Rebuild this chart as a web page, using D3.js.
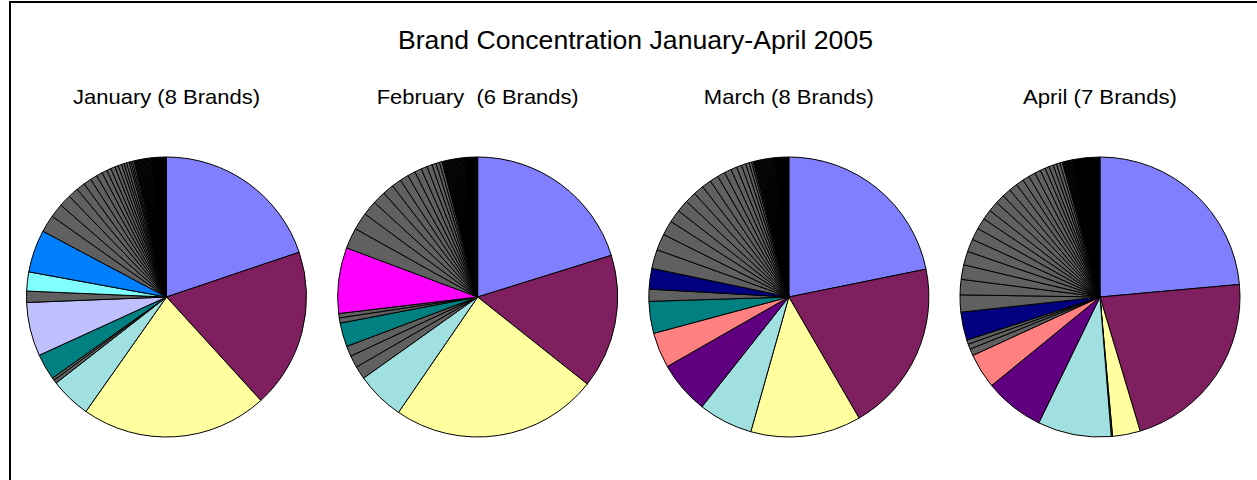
<!DOCTYPE html>
<html>
  <head>
    <title>Brand Concentration</title>
    <script src="https://d3js.org/d3.v7.min.js"></script>
    <style>
      body { margin: 0; background: #fff; }
      text { font-family: "Liberation Sans", Arial, sans-serif; fill: #000; }
    </style>
  </head>
  <body>
    <script>

      // chart title and month labels
      var title = "Brand Concentration January-April 2005"
      var months = ["January (8 Brands)", "February  (6 Brands)", "March (8 Brands)", "April (7 Brands)"]

      // slices clockwise from 12 o'clock, "o" = small brands, "t" = tiny brands, "r" = rest
      var janKeys = ["b1","b2","b3","b4","o","o","b7","b10","o","b11","b12",
        "o","o","o","o","o","o","o","o","o","o","o","o","o","o","o","o","o","o","o",
        "t","t","t","t","t","t","t","t","t","t","t","t","t","t","t","t","t","t","t","t","r"]
      var janValues = [19.8,18.4,21.5,4.7,0.4,0.3,3.0,6.2,1.3,2.2,4.9,
        2.0,1.6,1.4,1.2,1.0,0.9,0.8,0.7,0.6,0.5,0.5,0.4,0.4,0.3,0.3,0.3,0.2,0.2,0.2,
        0.1,0.1,0.1,0.1,0.1,0.1,0.1,0.1,0.1,0.1,0.1,0.1,0.1,0.1,0.1,0.1,0.1,0.1,0.1,0.1,1.7]

      var febKeys = ["b1","b2","b3","b4","o","o","o","b7","o","o","b9",
        "o","o","o","o","o","o","o","o","o","o","o","o","o","o",
        "t","t","t","t","t","t","t","t","t","t","t","t","t","t","t","t","t","t","t","t","t","t","t","t","t","t","r"]
      var febValues = [20.2,15.5,23.9,5.6,1.5,1.4,1.2,2.75,0.6,0.5,7.6,
        2.4,2.0,1.7,1.5,1.3,1.1,1.0,0.9,0.8,0.7,0.6,0.5,0.4,0.3,
        0.1,0.1,0.1,0.1,0.1,0.1,0.1,0.1,0.1,0.1,0.1,0.1,0.1,0.1,0.1,0.1,0.1,0.1,0.1,0.1,0.1,0.1,0.1,0.1,0.1,0.1,1.5]

      var marKeys = ["b1","b2","b3","b4","b5","b6","b7","o","b8",
        "o","o","o","o","o","o","o","o","o","o","o","o","o","o","o","o","o",
        "t","t","t","t","t","t","t","t","t","t","t","t","t","t","t","t","t","t","t","t","t","t","t","t","t","r"]
      var marValues = [21.9,19.9,12.8,6.3,6.1,4.1,3.7,1.4,2.4,
        2.2,1.9,1.7,1.5,1.4,1.3,1.2,1.1,1.0,0.9,0.8,0.7,0.6,0.5,0.4,0.3,0.2,
        0.1,0.1,0.1,0.1,0.1,0.1,0.1,0.1,0.1,0.1,0.1,0.1,0.1,0.1,0.1,0.1,0.1,0.1,0.1,0.1,0.1,0.1,0.1,0.1,0.1,1.6]

      var aprKeys = ["b1","b2","b3","o","b4","b5","b6","o","o","o","b8",
        "o","o","o","o","o","o","o","o","o","o","o","o","o","o","o","o","o","o","o","o","o","o",
        "t","t","t","t","t","t","t","t","t","t","t","t","r"]
      var aprValues = [23.9,22.1,3.25,0.15,8.6,7.0,4.1,0.8,0.6,0.5,3.3,
        2.0,1.8,1.7,1.6,1.5,1.4,1.3,1.2,1.2,1.1,1.0,1.0,0.9,0.8,0.8,0.7,0.6,0.5,0.5,0.4,0.4,0.3,
        0.1,0.1,0.1,0.1,0.1,0.1,0.1,0.1,0.1,0.1,0.1,0.1,3.2]

      var brandKeys = ["b1","b2","b3","b4","b5","b6","b7","b8","b9","b10","b11","b12","o","t","r"]
      var brandColors = ["#8080ff","#7f1f5f","#ffffa0","#a0e0e0","#600080","#ff8080","#008080",
        "#000080","#ff00ff","#c0c0ff","#80ffff","#0080ff","#606060","#606060","#000000"]

      var w = 1257
      var h = 480
      var radius = 140
      var pieY = 297

      var svg = d3.select("body")
        .append("svg")
        .attr("width", w)
        .attr("height", h)

      // frame round the chart
      svg.append("rect")
        .attr("x", 10)
        .attr("y", 2)
        .attr("width", 1300)
        .attr("height", 600)
        .attr("fill", "none")
        .attr("stroke", "#000")
        .attr("stroke-width", 2)

      svg.append("text")
        .attr("x", 635.5)
        .attr("y", 49)
        .attr("text-anchor", "middle")
        .attr("font-size", 25)
        .attr("textLength", 475)
        .attr("lengthAdjust", "spacingAndGlyphs")
        .text(title)

      var color = d3.scaleOrdinal().domain(brandKeys).range(brandColors)

      // x positions of the four pies
      var x_scale = d3.scalePoint()
        .domain(months)
        .range([166.5, 1100])

      var labelWidths = [187, 202, 170, 154]

      var pie = d3.pie()
        .sort(null)
        .value(function(d) { return d.value })

      var arc = d3.arc()
        .innerRadius(0)
        .outerRadius(radius)

      var series = [
        [janKeys, janValues],
        [febKeys, febValues],
        [marKeys, marValues],
        [aprKeys, aprValues]
      ]

      series.forEach(function(s, i) {
        var data = s[1].map(function(v, j) { return {key: s[0][j], value: v} })
        var cx = x_scale(months[i])

        svg.append("text")
          .attr("x", cx)
          .attr("y", 104)
          .attr("text-anchor", "middle")
          .attr("font-size", 21)
          .attr("textLength", labelWidths[i])
          .attr("lengthAdjust", "spacingAndGlyphs")
          .style("white-space", "pre")
          .text(months[i])

        var g = svg.append("g")
          .attr("transform", "translate(" + cx + "," + pieY + ")")

        g.selectAll("path")
          .data(pie(data))
          .enter()
          .append("path")
          .attr("d", arc)
          .attr("fill", function(d) { return color(d.data.key) })
          .attr("stroke", "#000")
          .attr("stroke-width", 1)
      })

    </script>
  </body>
</html>
